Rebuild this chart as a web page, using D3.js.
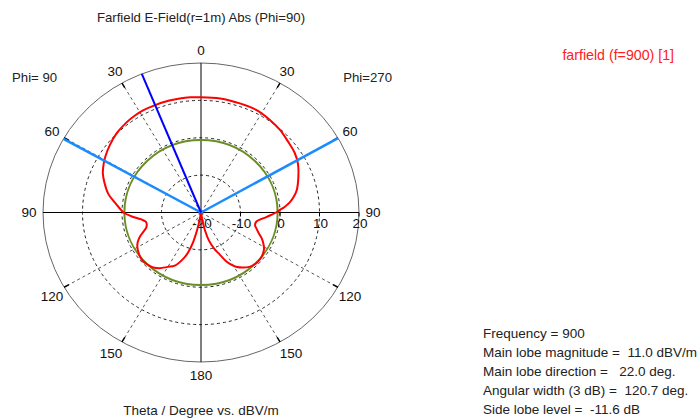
<!DOCTYPE html>
<html><head><meta charset="utf-8">
<script src="https://cdn.jsdelivr.net/npm/d3@7"></script>
<style>
html,body{margin:0;padding:0;background:#fff;}
svg{display:block;}
text{font-family:"Liberation Sans",Arial,sans-serif;}
</style></head>
<body>
<svg id="chart" width="700" height="419"></svg>
<script>
// ---- data ----
const title = "Farfield E-Field(r=1m) Abs (Phi=90)";
const axisTitle = "Theta / Degree vs. dBV/m";
const legendLabel = "farfield (f=900) [1]";
const sideLabels = ["Phi= 90", "Phi=270"];
const radialTicks = [-20, -10, 0, 10, 20];
const angleTicks = [0, 30, 60, 90, 120, 150, 180];
// Phi=90 half (drawn on the left): theta (deg), value (dBV/m)
const thetaLeft = [0,5,10,15,22,28,33,38,45,52,58,62,67,72,78,83,87,90,94,97,100,103,106,109,112,116,120,125,130,135,140,145,150,155,160,163,166,168,170,172,180];
const valueLeft = [10.85,10.95,11.0,11.0,11.0,11.0,10.85,10.6,10.1,9.3,8.5,7.9,7.0,5.7,4.0,2.0,0.6,-0.4,-2.8,-4.8,-5.8,-5.9,-5.6,-4.7,-3.5,-2.2,-1.4,-0.8,-0.4,-0.5,-0.9,-1.8,-3.2,-4.3,-6.8,-8.8,-12,-15,-18,-21,-30];
// Phi=270 half (drawn on the right)
const thetaRight = [0,9,19,27,35,42,49,56,62,69,76,80,83,86,88,90,94,100,104,107,111,114,118,122,128,133,137,140,144,148,151,154,157,161,165,168,170,172,180];
const valueRight = [10.85,10.9,10.8,10.8,10.3,9.8,9.1,8.6,7.8,6.4,5.0,3.8,2.7,1.2,0,-1.0,-3.3,-5.8,-5.9,-5.3,-4.3,-3.2,-2.1,-1.2,-0.6,-0.5,-0.7,-1.0,-1.8,-2.8,-4.0,-5.5,-7.7,-9.8,-12.2,-15,-17.5,-20,-30];
const sideLobeLevel = -0.6;          // dBV/m (main lobe 11.0 - 11.6 dB)
const mainLobeDir = -22.0;           // deg, on the Phi=90 side
const beamEdges = [-60.5, 60.2];     // 3 dB width edges
const infoLines = ["Frequency = 900","Main lobe magnitude =  11.0 dBV/m","Main lobe direction =   22.0 deg.","Angular width (3 dB) =  120.7 deg.","Side lobe level =  -11.6 dB"];

// ---- layout ----
const svg = d3.select("#chart");
const cx = 201, cy = 212.5, rx = 158, ry = 149.5;
const r = d3.scaleLinear().domain([-20, 20]).range([0, 1]).clamp(true);
const rad = d => d * Math.PI / 180;
const px = (a, v) => cx + rx * r(v) * Math.sin(rad(a));
const py = (a, v) => cy - ry * r(v) * Math.cos(rad(a));

const g = svg.append("g");

// outer ellipse
g.append("ellipse").attr("cx", cx).attr("cy", cy).attr("rx", rx).attr("ry", ry)
  .attr("fill", "none").attr("stroke", "#666").attr("stroke-width", 1);

// dashed rings
g.selectAll(".ring").data(radialTicks.filter(v => v > -20 && v < 20)).enter()
  .append("ellipse").attr("cx", cx).attr("cy", cy)
  .attr("rx", v => rx * r(v)).attr("ry", v => ry * r(v))
  .attr("fill", "none").attr("stroke", "#222").attr("stroke-width", 1)
  .attr("stroke-dasharray", "3,3");

// dashed spokes
const spokes = [];
angleTicks.filter(a => a % 90 !== 0).forEach(a => { spokes.push(a); spokes.push(-a); });
g.selectAll(".spoke").data(spokes).enter().append("line")
  .attr("x1", cx).attr("y1", cy)
  .attr("x2", a => px(a, 20)).attr("y2", a => py(a, 20))
  .attr("stroke", "#555").attr("stroke-width", 1).attr("stroke-dasharray", "3,3");

// axes
g.append("line").attr("x1", px(-90, 20)).attr("x2", px(90, 20)).attr("y1", cy).attr("y2", cy)
  .attr("stroke", "#000").attr("stroke-width", 1);
g.append("line").attr("x1", cx).attr("x2", cx).attr("y1", py(0, 20)).attr("y2", py(180, 20))
  .attr("stroke", "#000").attr("stroke-width", 1);

// radial ticks on horizontal axis
g.selectAll(".rt").data(radialTicks.filter(v => v > -20)).enter().append("line")
  .attr("x1", v => px(90, v)).attr("x2", v => px(90, v))
  .attr("y1", cy).attr("y2", cy + 4).attr("stroke", "#000");
g.selectAll(".rtl").data(radialTicks).enter().append("text")
  .attr("x", v => px(90, v) + 1).attr("y", cy + 15)
  .attr("text-anchor", "middle").attr("font-size", 13.5).attr("fill", "#111")
  .text(v => v);

// outer ticks
g.selectAll(".ot").data(spokes).enter().append("line")
  .attr("x1", a => px(a, 20)).attr("y1", a => py(a, 20))
  .attr("x2", a => px(a, 18.6)).attr("y2", a => py(a, 18.6))
  .attr("stroke", "#000").attr("stroke-width", 1.5);

// angle labels
const angLab = [];
angleTicks.forEach(a => { angLab.push(a); if (a !== 0 && a !== 180) angLab.push(-a); });
const wide = a => Math.abs(a) > 90 && Math.abs(a) < 180;
g.selectAll(".al").data(angLab).enter().append("text")
  .attr("x", a => cx + (rx + 14) * Math.sin(rad(a)) + (Math.abs(a) === 150 ? 4 * Math.sign(a) : 0))
  .attr("y", a => cy - (ry + 13) * Math.cos(rad(a)) + (Math.abs(a) === 120 ? 3 : 0))
  .attr("dy", "0.35em").attr("text-anchor", "middle").attr("font-size", 13.5).attr("fill", "#111")
  .text(a => Math.abs(a));

// side lobe level circle
g.append("ellipse").attr("cx", cx).attr("cy", cy)
  .attr("rx", rx * r(sideLobeLevel)).attr("ry", ry * r(sideLobeLevel))
  .attr("fill", "none").attr("stroke", "#6b8e23").attr("stroke-width", 2);

// pattern curve
const pts = thetaRight.map((t, i) => [t, valueRight[i]])
  .concat(thetaLeft.map((t, i) => [-t, valueLeft[i]]).reverse());
const line = d3.line().x(d => px(d[0], d[1])).y(d => py(d[0], d[1])).curve(d3.curveCatmullRom.alpha(0.5));
g.append("path").attr("d", line(pts)).attr("fill", "none").attr("stroke", "#ff0000").attr("stroke-width", 2);

// beam edge lines and main lobe line
g.selectAll(".be").data(beamEdges).enter().append("line")
  .attr("x1", cx).attr("y1", cy).attr("x2", a => px(a, 20)).attr("y2", a => py(a, 20))
  .attr("stroke", "#1a8cff").attr("stroke-width", 2.5);
g.append("line").attr("x1", cx).attr("y1", cy)
  .attr("x2", px(mainLobeDir, 20)).attr("y2", py(mainLobeDir, 20))
  .attr("stroke", "#0000ff").attr("stroke-width", 2);

// texts
svg.append("text").attr("x", 201).attr("y", 22).attr("text-anchor", "middle")
  .attr("font-size", 13.2).attr("fill", "#222").text(title);
svg.append("text").attr("x", 201).attr("y", 415).attr("text-anchor", "middle")
  .attr("font-size", 13.5).attr("fill", "#222").text(axisTitle);
svg.append("text").attr("x", 12).attr("y", 82).attr("font-size", 13.2).attr("fill", "#222")
  .style("white-space", "pre").text(sideLabels[0]);
svg.append("text").attr("x", 392).attr("y", 82).attr("text-anchor", "end").attr("font-size", 13.2).attr("fill", "#222")
  .text(sideLabels[1]);
svg.append("text").attr("x", 674).attr("y", 60).attr("text-anchor", "end").attr("font-size", 14.2).attr("fill", "#ff2020")
  .text(legendLabel);
svg.selectAll(".info").data(infoLines).enter().append("text")
  .attr("x", 483).attr("y", (d, i) => 337.5 + i * 19.2)
  .attr("font-size", 13.5).attr("fill", "#222").style("white-space", "pre")
  .text(d => d);
</script>
</body></html>
